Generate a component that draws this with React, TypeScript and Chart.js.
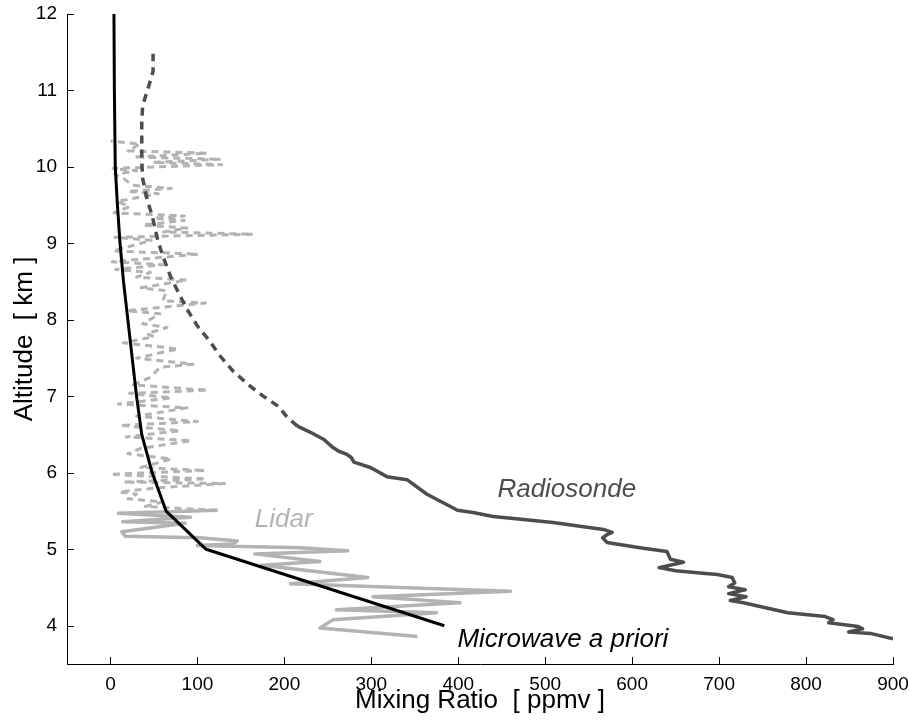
import React, { useEffect, useRef } from "react";
import { Chart, registerables } from "chart.js";

Chart.register(...registerables);

const FONT = '"Liberation Sans", Arial, Helvetica, sans-serif';

const xTickValues = [0, 100, 200, 300, 400, 500, 600, 700, 800, 900];
const yTickValues = [4, 5, 6, 7, 8, 9, 10, 11, 12];

const xTitle = "Mixing Ratio  [ ppmv ]";
const yTitle = "Altitude  [ km ]";

// Microwave a priori (solid black)
const microwaveAlt = [4, 5, 5.5, 6, 6.5, 7, 7.5, 8, 8.5, 9, 9.5, 10, 11, 12];
const microwaveMix = [384, 110, 64, 48, 36, 30, 25, 20, 15, 11, 8, 5.5, 4.5, 4];

// Radiosonde, upper part (dashed)
const radiosondeUpperAlt = [6.61, 6.73, 6.87, 7.0, 7.13, 7.33, 7.53, 7.71, 7.92, 8.14, 8.36, 8.57, 8.84, 9.06, 9.36, 9.58, 9.85, 10.07, 10.28, 10.59, 10.8, 11.02, 11.25, 11.48];
const radiosondeUpperMix = [215, 203, 193, 176, 161, 141, 126, 115, 100, 88, 78, 69, 60, 54, 48, 42, 37, 36, 36, 36, 37, 43, 49, 49];

// Radiosonde, lower part (solid)
const radiosondeLowerAlt = [6.61, 6.53, 6.44, 6.4, 6.33, 6.28, 6.24, 6.2, 6.14, 6.07, 5.95, 5.91, 5.72, 5.56, 5.51, 5.48, 5.43, 5.39, 5.35, 5.26, 5.22, 5.19, 5.15, 5.09, 5.02, 4.97, 4.87, 4.83, 4.76, 4.72, 4.69, 4.67, 4.63, 4.56, 4.51, 4.47, 4.42, 4.38, 4.33, 4.3, 4.17, 4.12, 4.08, 4.04, 3.99, 3.96, 3.92, 3.9, 3.83];
const radiosondeLowerMix = [215, 230, 245, 249, 256, 263, 272, 277, 280, 299, 318, 341, 364, 391, 399, 417, 440, 475, 509, 567, 577, 571, 566, 571, 609, 640, 644, 659, 631, 650, 678, 698, 715, 718, 711, 730, 711, 731, 713, 728, 779, 822, 831, 826, 860, 865, 849, 874, 900];

// Lidar, lower part (solid)
const lidarLowerAlt = [5.51, 5.47, 5.42, 5.36, 5.34, 5.23, 5.17, 5.15, 5.11, 5.07, 5.05, 5.02, 4.98, 4.94, 4.84, 4.79, 4.63, 4.55, 4.45, 4.38, 4.3, 4.21, 4.17, 4.08, 3.97, 3.86];
const lidarLowerMix = [123, 9, 92, 14, 86, 13, 17, 103, 146, 141, 100, 218, 273, 166, 241, 174, 296, 207, 460, 302, 402, 260, 375, 256, 241, 353];

// Lidar, upper part (dashed)
const lidarUpperAlt = [5.51, 5.56, 5.62, 5.66, 5.72, 5.75, 5.8, 5.86, 5.88, 5.92, 5.98, 6.03, 6.07, 6.18, 6.25, 6.32, 6.42, 6.47, 6.55, 6.62, 6.67, 6.74, 6.85, 6.9, 6.98, 7.04, 7.08, 7.15, 7.25, 7.38, 7.42, 7.5, 7.62, 7.7, 7.78, 7.82, 7.9, 7.95, 8.08, 8.12, 8.22, 8.25, 8.38, 8.42, 8.52, 8.56, 8.62, 8.66, 8.72, 8.76, 8.86, 8.9, 9.04, 9.08, 9.12, 9.15, 9.2, 9.24, 9.3, 9.33, 9.36, 9.4, 9.48, 9.55, 9.65, 9.68, 9.72, 9.76, 9.85, 9.9, 9.95, 9.98, 10.03, 10.06, 10.1, 10.13, 10.18, 10.21, 10.3, 10.34];
const lidarUpperMix = [123, 40, 60, 20, 30, 10, 50, 131, 15, 110, 0, 109, 35, 70, 20, 35, 93, 18, 80, 11, 100, 30, 88, 9, 70, 22, 112, 26, 46, 57, 95, 30, 78, 15, 50, 42, 65, 37, 57, 19, 109, 60, 65, 35, 88, 30, 46, 6, 60, 2, 101, 3, 47, 5, 164, 61, 88, 37, 85, 50, 85, 4, 22, 8, 55, 20, 70, 25, 15, 5, 30, 3, 128, 49, 127, 27, 111, 20, 34, 0];

// In-plot labels
const labelTexts = ["Radiosonde", "Lidar", "Microwave a priori"];
const labelMix = [445, 166, 399];
const labelAlt = [5.78, 5.38, 3.82];
const labelColors = ["#4d4d4d", "#b3b3b3", "#000000"];

const RADIO_COLOR = "#4d4d4d";
const LIDAR_COLOR = "#b3b3b3";

function pts(xs: number[], ys: number[]) {
  return xs.map((x, i) => ({ x, y: ys[i] }));
}

const decorPlugin = {
  id: "decor",
  afterDatasetsDraw(chart: any) {
    const { ctx, scales } = chart;
    ctx.save();
    ctx.font = `italic 26px ${FONT}`;
    ctx.textBaseline = "middle";
    ctx.textAlign = "left";
    labelTexts.forEach((t, i) => {
      ctx.fillStyle = labelColors[i];
      ctx.fillText(t, scales.x.getPixelForValue(labelMix[i]), scales.y.getPixelForValue(labelAlt[i]));
    });
    ctx.restore();
  },
  afterDraw(chart: any) {
    const { ctx, chartArea, scales } = chart;
    ctx.save();
    ctx.strokeStyle = "#000";
    ctx.lineWidth = 1;
    ctx.beginPath();
    xTickValues.forEach((v) => {
      const p = Math.round(scales.x.getPixelForValue(v)) + 0.5;
      ctx.moveTo(p, chartArea.bottom);
      ctx.lineTo(p, chartArea.bottom - 7);
    });
    yTickValues.forEach((v) => {
      const p = Math.round(scales.y.getPixelForValue(v)) + 0.5;
      ctx.moveTo(chartArea.left, p);
      ctx.lineTo(chartArea.left + 7, p);
    });
    ctx.stroke();

    ctx.fillStyle = "#000";
    ctx.font = `26px ${FONT}`;
    ctx.textAlign = "center";
    ctx.textBaseline = "middle";
    const cx = (chartArea.left + chartArea.right) / 2;
    const cy = (chartArea.top + chartArea.bottom) / 2;
    ctx.fillText(xTitle, cx, chartArea.bottom + 37);
    ctx.translate(25, cy);
    ctx.rotate(-Math.PI / 2);
    ctx.fillText(yTitle, 0, 0);
    ctx.restore();
  },
};

export default function App() {
  const canvasRef = useRef<HTMLCanvasElement | null>(null);

  useEffect(() => {
    const canvas = canvasRef.current;
    if (!canvas) return;
    const line = (data: any, color: string, width: number, dash: number[] = []) => ({
      data,
      borderColor: color,
      backgroundColor: color,
      borderWidth: width,
      borderDash: dash,
      showLine: true,
      pointRadius: 0,
      pointHoverRadius: 0,
      tension: 0,
      fill: false,
      borderJoinStyle: "round",
      borderCapStyle: "butt",
    });
    const chart = new Chart(canvas, {
      type: "scatter",
      data: {
        datasets: [
          { label: "Microwave a priori", ...line(pts(microwaveMix, microwaveAlt), "#000000", 3) },
          { label: "Radiosonde", ...line(pts(radiosondeLowerMix, radiosondeLowerAlt), RADIO_COLOR, 3.5) },
          { label: "Radiosonde (upper)", ...line(pts(radiosondeUpperMix, radiosondeUpperAlt), RADIO_COLOR, 3.5, [8, 6]) },
          { label: "Lidar", ...line(pts(lidarLowerMix, lidarLowerAlt), LIDAR_COLOR, 3.5) },
          { label: "Lidar (upper)", ...line(pts(lidarUpperMix, lidarUpperAlt), LIDAR_COLOR, 3, [7, 5]) },
        ] as any,
      },
      options: {
        responsive: false,
        animation: false,
        devicePixelRatio: 1,
        layout: { padding: { left: 0, top: 14, right: 16, bottom: 0 } },
        plugins: { legend: { display: false }, tooltip: { enabled: false } },
        events: [],
        scales: {
          x: {
            type: "linear",
            min: -50,
            max: 900,
            afterBuildTicks: (axis: any) => {
              axis.ticks = xTickValues.map((v) => ({ value: v }));
            },
            afterFit: (axis: any) => {
              axis.height = 56;
              axis.paddingLeft = 0;
              axis.paddingRight = 0;
            },
            grid: { display: false, drawTicks: false },
            border: { display: true, color: "#000", width: 1 },
            ticks: { color: "#000", font: { family: FONT, size: 19 }, padding: 9, maxRotation: 0, autoSkip: false },
          },
          y: {
            type: "linear",
            min: 3.5,
            max: 12,
            afterBuildTicks: (axis: any) => {
              axis.ticks = yTickValues.map((v) => ({ value: v }));
            },
            afterFit: (axis: any) => {
              axis.width = 67;
              axis.paddingTop = 0;
              axis.paddingBottom = 0;
            },
            grid: { display: false, drawTicks: false },
            border: { display: true, color: "#000", width: 1 },
            ticks: { color: "#000", font: { family: FONT, size: 19 }, padding: 10, autoSkip: false },
          },
        },
      } as any,
      plugins: [decorPlugin],
    });
    return () => chart.destroy();
  }, []);

  return (
    <div style={{ position: "absolute", left: 0, top: 0, width: 909, height: 720, background: "#fff" }}>
      <canvas ref={canvasRef} width={909} height={720} style={{ display: "block" }} />
    </div>
  );
}
